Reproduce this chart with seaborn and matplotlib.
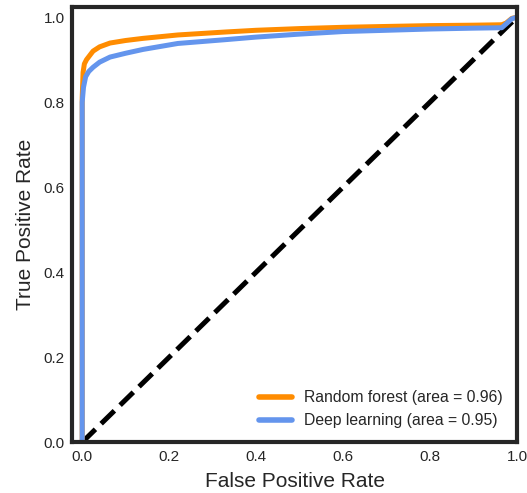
import matplotlib
matplotlib.use("Agg")
import matplotlib.pyplot as plt
import seaborn as sns
import pandas as pd

rf_fpr = [0.0, 0.0, 0.002, 0.005, 0.01, 0.025, 0.04, 0.064, 0.1, 0.14, 0.22, 0.33, 0.4, 0.5, 0.6, 0.7, 0.8, 0.9, 0.965, 0.975, 0.988, 1.0]
rf_tpr = [0.0, 0.81, 0.87, 0.89, 0.90, 0.92, 0.93, 0.939, 0.945, 0.95, 0.958, 0.965, 0.969, 0.973, 0.976, 0.978, 0.980, 0.981, 0.982, 0.986, 0.997, 1.0]
dl_fpr = [0.0, 0.0, 0.003, 0.008, 0.015, 0.025, 0.04, 0.064, 0.1, 0.14, 0.22, 0.33, 0.4, 0.5, 0.6, 0.7, 0.8, 0.9, 0.965, 0.975, 0.988, 1.0]
dl_tpr = [0.0, 0.80, 0.835, 0.86, 0.872, 0.882, 0.894, 0.906, 0.915, 0.924, 0.938, 0.947, 0.953, 0.960, 0.966, 0.969, 0.972, 0.974, 0.975, 0.984, 0.996, 1.0]
diag = [0.0, 1.0]
labels = ["Random forest (area = 0.96)", "Deep learning (area = 0.95)"]
colors = ["#FF8C00", "#6495ED"]

sns.set_style("white")
plt.rcParams['font.family'] = ['Liberation Sans', 'DejaVu Sans']

fig = plt.figure(figsize=(5.27, 4.93), dpi=100)
ax = fig.add_axes([0.137, 0.103, 0.844, 0.883])

rf = pd.DataFrame({"fpr": rf_fpr, "tpr": rf_tpr})
dl = pd.DataFrame({"fpr": dl_fpr, "tpr": dl_tpr})
dg = pd.DataFrame({"fpr": diag, "tpr": diag})

sns.lineplot(data=dg, x="fpr", y="tpr", ax=ax, color="black", lw=3.6,
             linestyle="--", estimator=None, sort=False)
sns.lineplot(data=rf, x="fpr", y="tpr", ax=ax, color=colors[0], lw=3.6,
             estimator=None, sort=False, label=labels[0])
sns.lineplot(data=dl, x="fpr", y="tpr", ax=ax, color=colors[1], lw=3.6,
             estimator=None, sort=False, label=labels[1])

ax.set_xlim(-0.023, 1.0)
ax.set_ylim(0.0, 1.024)
ax.set_xticks([0, 0.2, 0.4, 0.6, 0.8, 1.0])
ax.set_yticks([0, 0.2, 0.4, 0.6, 0.8, 1.0])
ax.set_xticklabels(["0.0", "0.2", "0.4", "0.6", "0.8", "1.0"])
ax.set_yticklabels(["0.0", "0.2", "0.4", "0.6", "0.8", "1.0"])
ax.tick_params(labelsize=11, colors="#262626", pad=2)
ax.set_xlabel("False Positive Rate", fontsize=15, color="#262626", labelpad=6)
ax.set_ylabel("True Positive Rate", fontsize=15, color="#262626", labelpad=6)
for s in ax.spines.values():
    s.set_linewidth(3)
    s.set_color("#262626")
leg = ax.legend(loc="lower right", frameon=False, fontsize=11.3, handlelength=2.1)
for l in leg.get_lines():
    l.set_linewidth(4)

fig.savefig("out.png", dpi=100)
